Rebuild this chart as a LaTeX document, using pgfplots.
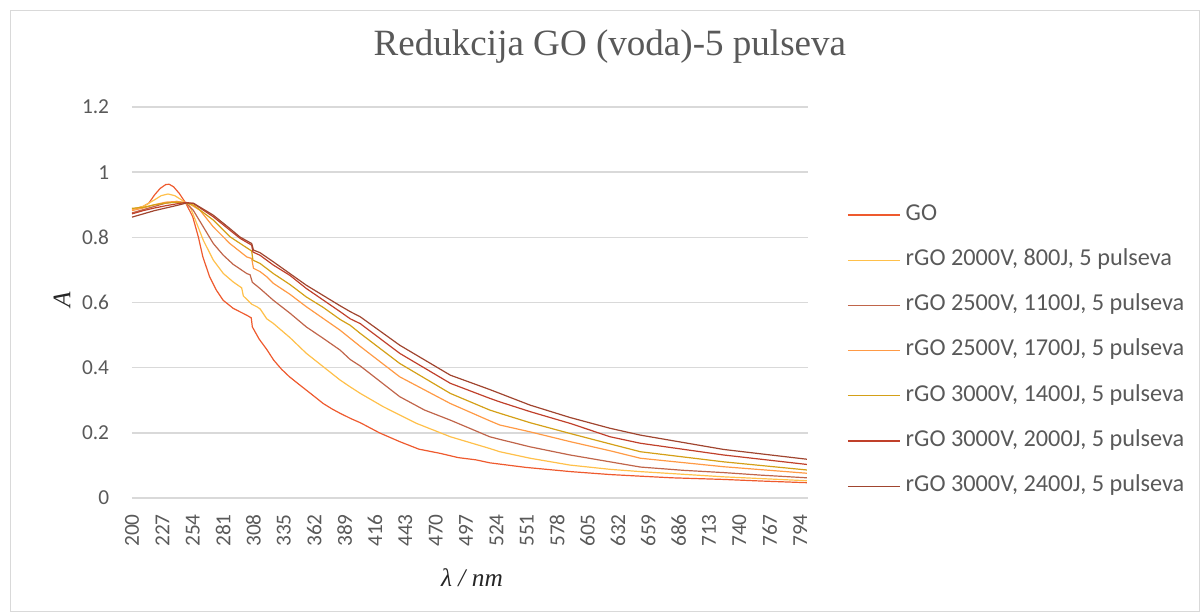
\documentclass[border=0pt]{standalone}
\usepackage{fontspec}
\setmainfont{Carlito}
\newfontfamily\timesf{Liberation Serif}
\usepackage{pgfplots}
\pgfplotsset{compat=1.18}
\definecolor{cGO}{HTML}{EE5A2E}
\definecolor{cA}{HTML}{FFC04A}
\definecolor{cB}{HTML}{C0654A}
\definecolor{cC}{HTML}{FF9A45}
\definecolor{cD}{HTML}{D4A017}
\definecolor{cE}{HTML}{C0402A}
\definecolor{cF}{HTML}{A0452F}
\definecolor{txt}{HTML}{595959}
\definecolor{grd}{HTML}{D9D9D9}
\begin{document}
\begin{tikzpicture}
\path[use as bounding box] (-99pt,-85.5pt) rectangle (801pt,373.5pt);
\draw[grd, line width=0.6pt] (-91.5pt,-85pt) rectangle (800.5pt,366pt);
\begin{axis}[
  at={(0pt,0pt)}, anchor=south west,
  scale only axis, width=507pt, height=293.25pt,
  xmin=200, xmax=801, ymin=0, ymax=1.2,
  xtick={200,227,...,794},
  ytick={0,0.2,0.4,0.6,0.8,1,1.2},
  axis line style={draw=none},
  major tick length=0pt,
  ymajorgrids, grid style={grd, line width=1.1pt},
  /pgf/number format/assume math mode=true,
  tick label style={font=\fontsize{16}{19}\selectfont, text=txt},
  xticklabel style={rotate=90, anchor=east, inner sep=0pt},
  xticklabel shift=12pt,
  yticklabel style={anchor=east, inner sep=0pt},
  yticklabel shift=17pt,
  xlabel={\timesf\itshape λ / nm},
  ylabel={\timesf\itshape A},
  xlabel style={at={(axis description cs:0.503,-0.2046)}, anchor=center, font=\fontsize{19}{22}\selectfont, text=black!85},
  ylabel style={at={(axis description cs:-0.1036,0.506)}, anchor=center, font=\fontsize{19}{22}\selectfont, text=black!85},
  title={\timesf Redukcija GO (voda)-5 pulseva},
  title style={at={(axis description cs:0.707,1.133)}, anchor=center, font=\fontsize{27.8}{32}\selectfont, text=txt},
  legend style={at={(axis description cs:1.058,0.758)}, anchor=north west, draw=none, fill=none,
    inner sep=0pt, outer sep=0pt, row sep=13.9pt, column sep=2pt,
    font=\fontsize{18.2}{21}\selectfont, text=txt,
    nodes={text height=12pt, text depth=4pt, inner sep=2pt}},
  legend cell align=left,
  legend image code/.code={\draw[#1] (0pt,0pt) -- (39pt,0pt);},
  every axis plot/.append style={line width=0.9pt, mark=none},
]
\addplot[cGO] coordinates {
(200,0.886) (205,0.89) (210,0.895) (215,0.905) (220,0.93) (225,0.95) (230,0.962) (233,0.963)
(237,0.955) (242,0.935) (248,0.904) (254,0.863) (259,0.801) (263,0.74) (269,0.679) (275,0.638)
(281,0.607) (290,0.582) (302,0.561) (306,0.553) (307,0.525) (313,0.488) (320,0.455) (326,0.423)
(333,0.395) (340,0.372) (348,0.35) (355,0.331) (362,0.312) (370,0.29) (378,0.273) (385,0.26)
(395,0.243) (403,0.231) (420,0.2) (438,0.173) (455,0.15) (474,0.137) (490,0.124) (506,0.117)
(518,0.108) (550,0.094) (590,0.081) (625,0.072) (652,0.067) (680,0.062) (726,0.057) (760,0.052) (800,0.047)};
\addlegendentry{GO}
\addplot[cA] coordinates {
(200,0.886) (210,0.895) (220,0.915) (226,0.928) (232,0.933) (238,0.928) (244,0.915) (251.6,0.894)
(257.5,0.843) (263.4,0.791) (272.3,0.73) (281.2,0.689) (290,0.663) (297.5,0.645) (299,0.62)
(306.4,0.595) (311,0.587) (314,0.58) (319.8,0.55) (325.6,0.536) (340.5,0.492) (355,0.444)
(370,0.403) (385,0.362) (394,0.341) (403,0.321) (423.5,0.28) (453,0.229) (483,0.188) (518,0.152)
(527,0.142) (554,0.122) (589.5,0.101) (625,0.088) (652,0.081) (726,0.065) (800,0.053)};
\addlegendentry{rGO 2000V, 800J, 5 pulseva}
\addplot[cB] coordinates {
(200,0.875) (210,0.885) (220,0.895) (230,0.905) (240,0.91) (248,0.905) (254.5,0.883) (263.4,0.832)
(272.3,0.781) (281.2,0.745) (290,0.717) (302,0.689) (305,0.685) (307,0.662) (313.8,0.643)
(325.6,0.607) (340.5,0.567) (355,0.525) (370,0.49) (385,0.454) (394,0.425) (403,0.405) (438,0.311)
(460,0.27) (483,0.239) (518,0.188) (527,0.18) (554,0.157) (589.5,0.132) (625,0.111) (652,0.095)
(690,0.085) (726,0.078) (760,0.07) (800,0.062)};
\addlegendentry{rGO 2500V, 1100J, 5 pulseva}
\addplot[cC] coordinates {
(200,0.882) (210,0.89) (220,0.9) (230,0.908) (240,0.91) (250,0.905) (260.5,0.883) (272.3,0.832)
(287,0.781) (302,0.74) (306.4,0.735) (308,0.705) (313.8,0.695) (319.8,0.679) (325.6,0.659)
(340.5,0.625) (355,0.587) (385,0.515) (394,0.49) (403,0.465) (438,0.372) (483,0.29) (518,0.237)
(527,0.224) (554,0.203) (589.5,0.173) (625,0.145) (652,0.122) (726,0.096) (800,0.076)};
\addlegendentry{rGO 2500V, 1700J, 5 pulseva}
\addplot[cD] coordinates {
(200,0.889) (210,0.892) (220,0.9) (230,0.905) (240,0.908) (248,0.905) (254.5,0.899) (272.3,0.853)
(287,0.802) (306.4,0.758) (307.5,0.73) (313.8,0.72) (325.6,0.689) (340.5,0.655) (355,0.617)
(370,0.585) (385,0.548) (394,0.53) (403,0.505) (438,0.413) (483,0.321) (518,0.27) (527,0.26)
(554,0.231) (589.5,0.198) (625,0.166) (652,0.142) (726,0.111) (800,0.086)};
\addlegendentry{rGO 3000V, 1400J, 5 pulseva}
\addplot[cE] coordinates {
(200,0.872) (210,0.882) (220,0.89) (230,0.897) (240,0.903) (248,0.907) (254.5,0.904) (272.3,0.863)
(287,0.822) (296,0.797) (306.4,0.776) (307.5,0.755) (313.8,0.745) (325.6,0.715) (340.5,0.683)
(355,0.643) (385,0.572) (394,0.55) (403,0.535) (438,0.444) (483,0.352) (518,0.306) (527,0.295)
(554,0.265) (589.5,0.229) (625,0.188) (652,0.168) (726,0.132) (800,0.103)};
\addlegendentry{rGO 3000V, 2000J, 5 pulseva}
\addplot[cF] coordinates {
(200,0.862) (210,0.872) (220,0.882) (230,0.89) (240,0.898) (248,0.905) (254.5,0.905) (272.3,0.868)
(287,0.827) (296,0.801) (306.4,0.781) (308,0.761) (313.8,0.753) (325.6,0.725) (355,0.653)
(385,0.59) (394,0.572) (403,0.556) (438,0.469) (483,0.377) (518,0.333) (527,0.321) (554,0.285)
(589.5,0.247) (625,0.214) (652,0.193) (726,0.149) (800,0.119)};
\addlegendentry{rGO 3000V, 2400J, 5 pulseva}
\end{axis}
\end{tikzpicture}
\end{document}
